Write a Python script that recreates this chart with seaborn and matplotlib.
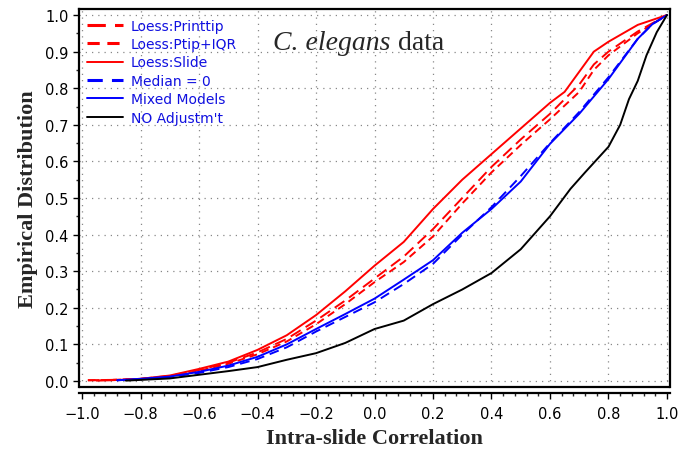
import numpy as np
import pandas as pd
import seaborn as sns
import matplotlib
matplotlib.use("Agg")
import matplotlib.pyplot as plt
from matplotlib.ticker import MultipleLocator

# curves (x = intra-slide correlation, y = ECDF)
x_printtip = [-0.98, -0.9, -0.8, -0.7, -0.6, -0.5, -0.4, -0.3, -0.2, -0.1, 0.0, 0.1, 0.2, 0.3, 0.4, 0.5, 0.6, 0.7, 0.75, 0.8, 0.9, 1.0]
y_printtip = [0.002, 0.003, 0.006, 0.014, 0.030, 0.050, 0.078, 0.115, 0.165, 0.220, 0.280, 0.340, 0.415, 0.500, 0.585, 0.660, 0.730, 0.810, 0.865, 0.900, 0.955, 1.0]

x_ptipiqr = [-0.98, -0.9, -0.8, -0.7, -0.6, -0.5, -0.4, -0.3, -0.2, -0.1, 0.0, 0.1, 0.2, 0.3, 0.4, 0.5, 0.6, 0.7, 0.75, 0.8, 0.9, 1.0]
y_ptipiqr = [0.002, 0.003, 0.005, 0.013, 0.028, 0.047, 0.073, 0.108, 0.155, 0.210, 0.270, 0.325, 0.395, 0.485, 0.570, 0.645, 0.715, 0.790, 0.850, 0.890, 0.950, 1.0]

x_slide = [-0.95, -0.9, -0.8, -0.7, -0.6, -0.5, -0.4, -0.3, -0.2, -0.1, 0.0, 0.1, 0.2, 0.3, 0.4, 0.5, 0.6, 0.65, 0.7, 0.75, 0.8, 0.9, 1.0]
y_slide = [0.001, 0.002, 0.006, 0.015, 0.033, 0.053, 0.085, 0.125, 0.180, 0.245, 0.315, 0.380, 0.470, 0.550, 0.620, 0.690, 0.760, 0.790, 0.845, 0.900, 0.927, 0.973, 1.0]

x_median = [-0.88, -0.8, -0.7, -0.6, -0.5, -0.4, -0.3, -0.2, -0.1, 0.0, 0.1, 0.2, 0.3, 0.4, 0.5, 0.6, 0.7, 0.8, 0.9, 0.95, 1.0]
y_median = [0.002, 0.005, 0.011, 0.022, 0.038, 0.060, 0.092, 0.135, 0.175, 0.215, 0.265, 0.320, 0.400, 0.475, 0.560, 0.650, 0.735, 0.830, 0.935, 0.975, 1.0]

x_mixed = [-0.88, -0.8, -0.7, -0.6, -0.5, -0.4, -0.3, -0.2, -0.1, 0.0, 0.1, 0.2, 0.3, 0.4, 0.5, 0.6, 0.7, 0.8, 0.9, 0.95, 1.0]
y_mixed = [0.002, 0.006, 0.012, 0.025, 0.042, 0.066, 0.100, 0.142, 0.183, 0.225, 0.277, 0.330, 0.405, 0.470, 0.545, 0.648, 0.730, 0.825, 0.935, 0.975, 1.0]

x_noadj = [-0.85, -0.8, -0.7, -0.6, -0.5, -0.4, -0.3, -0.2, -0.1, 0.0, 0.1, 0.2, 0.3, 0.4, 0.5, 0.6, 0.67, 0.72, 0.8, 0.84, 0.87, 0.9, 0.93, 0.965, 1.0]
y_noadj = [0.001, 0.003, 0.007, 0.017, 0.027, 0.038, 0.058, 0.076, 0.104, 0.142, 0.165, 0.210, 0.250, 0.295, 0.360, 0.450, 0.525, 0.570, 0.640, 0.700, 0.770, 0.820, 0.890, 0.953, 1.0]

methods = ["Loess:Printtip", "Loess:Ptip+IQR", "Loess:Slide", "Median = 0", "Mixed Models", "NO Adjustm't"]
xs = [x_printtip, x_ptipiqr, x_slide, x_median, x_mixed, x_noadj]
ys = [y_printtip, y_ptipiqr, y_slide, y_median, y_mixed, y_noadj]

df = pd.concat([pd.DataFrame({"x": a, "y": b, "method": m}) for a, b, m in zip(xs, ys, methods)],
               ignore_index=True)

palette = {"Loess:Printtip": "#ff0000", "Loess:Ptip+IQR": "#ff0000", "Loess:Slide": "#ff0000",
           "Median = 0": "#0000ff", "Mixed Models": "#0000ff", "NO Adjustm't": "#000000"}
dashes = {"Loess:Printtip": (6, 3), "Loess:Ptip+IQR": (4, 2.5), "Loess:Slide": "",
          "Median = 0": (5, 3), "Mixed Models": "", "NO Adjustm't": ""}

sns.set_style("white")
fig = plt.figure(figsize=(6.91, 4.52), dpi=100)
ax = fig.add_axes([79 / 691, 1 - 388 / 452, 591 / 691, 378 / 452])

sns.lineplot(data=df, x="x", y="y", hue="method", style="method", palette=palette,
             dashes=dashes, hue_order=methods, style_order=methods,
             estimator=None, sort=False, linewidth=1.4, ax=ax)

ax.set_xlim(-1.0103, 1.0103)
ax.set_ylim(-0.0164, 1.0164)
ax.xaxis.set_major_locator(MultipleLocator(0.2))
ax.xaxis.set_minor_locator(MultipleLocator(0.04))
ax.yaxis.set_major_locator(MultipleLocator(0.1))
ax.yaxis.set_minor_locator(MultipleLocator(0.05))
ax.set_xticklabels([f"{v:.1f}".replace("-", "\u2212") for v in ax.get_xticks()])
ax.set_yticklabels([f"{v:.1f}" for v in ax.get_yticks()])
ax.tick_params(axis="both", which="major", direction="out", length=4, width=1,
               labelsize=10.5, colors="black", bottom=True, left=True)
ax.tick_params(axis="both", which="minor", direction="out", length=2.5, width=1,
               bottom=True, left=True)
ax.tick_params(axis="x", pad=6)

ax.grid(True, which="major", color="#888888", linestyle=(0, (1, 4)), linewidth=0.9)
for s in ax.spines.values():
    s.set_color("black")
    s.set_linewidth(1.6)
ax.spines["bottom"].set_position(("outward", 4))
ax.plot([0, 1], [0, 0], transform=ax.transAxes, color="black", lw=1.6, clip_on=False)

ax.set_xlabel("Intra-slide Correlation", family="Liberation Serif", fontweight="bold",
              fontsize=16, labelpad=5)
ax.set_ylabel("Empirical Distribution", family="Liberation Serif", fontweight="bold",
              fontsize=16, labelpad=5)

t1 = ax.text(0.329, 0.895, "C. elegans", transform=ax.transAxes, family="Liberation Serif",
             style="italic", fontsize=20, va="baseline")
ax.annotate(" data", xy=(1, 0), xycoords=t1, va="bottom", ha="left",
            family="Liberation Serif", fontsize=20)

leg = ax.legend(loc="upper left", frameon=False, fontsize=10, handlelength=2.6,
                handletextpad=0.6, labelspacing=0.32, borderaxespad=0.15,
                bbox_to_anchor=(0.0, 0.995))
for txt in leg.get_texts():
    txt.set_color("#1010e0")
for ln in leg.get_lines():
    ln.set_linewidth(2.2 if ln.get_linestyle() != "-" else 1.4)

fig.savefig("out.png", dpi=100)
